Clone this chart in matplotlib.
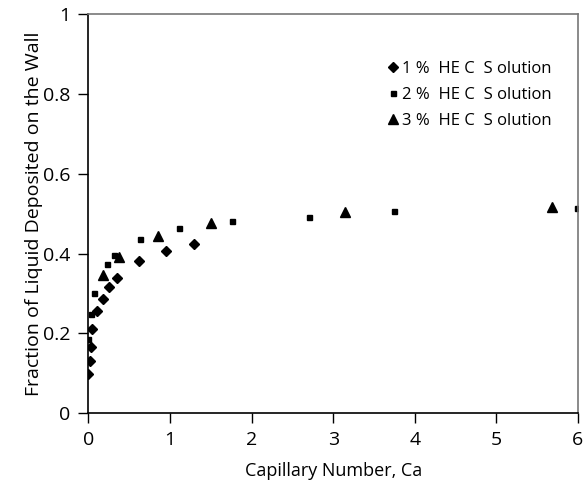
import numpy as np
import matplotlib
matplotlib.use("Agg")
import matplotlib.pyplot as plt

# data
ca_1pct = [0.00, 0.02, 0.035, 0.05, 0.105, 0.175, 0.255, 0.355, 0.615, 0.95, 1.30]
frac_1pct = [0.098, 0.131, 0.166, 0.211, 0.257, 0.285, 0.317, 0.338, 0.382, 0.407, 0.423]

ca_2pct = [0.00, 0.03, 0.075, 0.23, 0.31, 0.635, 1.11, 1.76, 2.71, 3.74, 5.99]
frac_2pct = [0.186, 0.248, 0.302, 0.374, 0.396, 0.437, 0.464, 0.483, 0.493, 0.507, 0.514]

ca_3pct = [0.18, 0.38, 0.85, 1.50, 3.15, 5.68]
frac_3pct = [0.346, 0.392, 0.444, 0.478, 0.504, 0.518]

labels = ["1 %  HE C  S olution", "2 %  HE C  S olution", "3 %  HE C  S olution"]

plt.rcParams["font.family"] = ["Open Sans", "DejaVu Sans"]

fig = plt.figure(figsize=(5.86, 4.88), dpi=100)
ax = fig.add_axes([0.1507, 0.1537, 0.9863 - 0.1507, 0.9703 - 0.1537])

ax.plot(ca_1pct, frac_1pct, "D", color="black", markersize=5.2, linestyle="none", label=labels[0])
ax.plot(ca_2pct, frac_2pct, "s", color="black", markersize=3.6, linestyle="none", label=labels[1])
ax.plot(ca_3pct, frac_3pct, "^", color="black", markersize=6.5, linestyle="none", label=labels[2])

ax.set_xlim(0, 6)
ax.set_ylim(0, 1)
ax.set_xticks(np.arange(0, 7, 1))
ax.set_yticks(np.arange(0, 1.01, 0.2))
ax.set_yticklabels(["0", "0.2", "0.4", "0.6", "0.8", "1"])

for s in ["top", "right"]:
    ax.spines[s].set_color("#777777")
for s in ["left", "bottom"]:
    ax.spines[s].set_color("black")
for s in ax.spines.values():
    s.set_linewidth(1.2)

ax.tick_params(direction="out", length=7, width=1, labelsize=14, pad=6)
ax.set_xlabel("Capillary Number, Ca", fontsize=13, labelpad=9)
ax.set_ylabel("Fraction of Liquid Deposited on the Wall", fontsize=14, labelpad=0)

ax.legend(loc="upper left", bbox_to_anchor=(0.647, 0.888), bbox_transform=fig.transFigure,
          frameon=False, fontsize=12, handletextpad=0.05, labelspacing=0.6,
          handlelength=0.9, borderaxespad=0)

fig.savefig("out.png", dpi=100)
